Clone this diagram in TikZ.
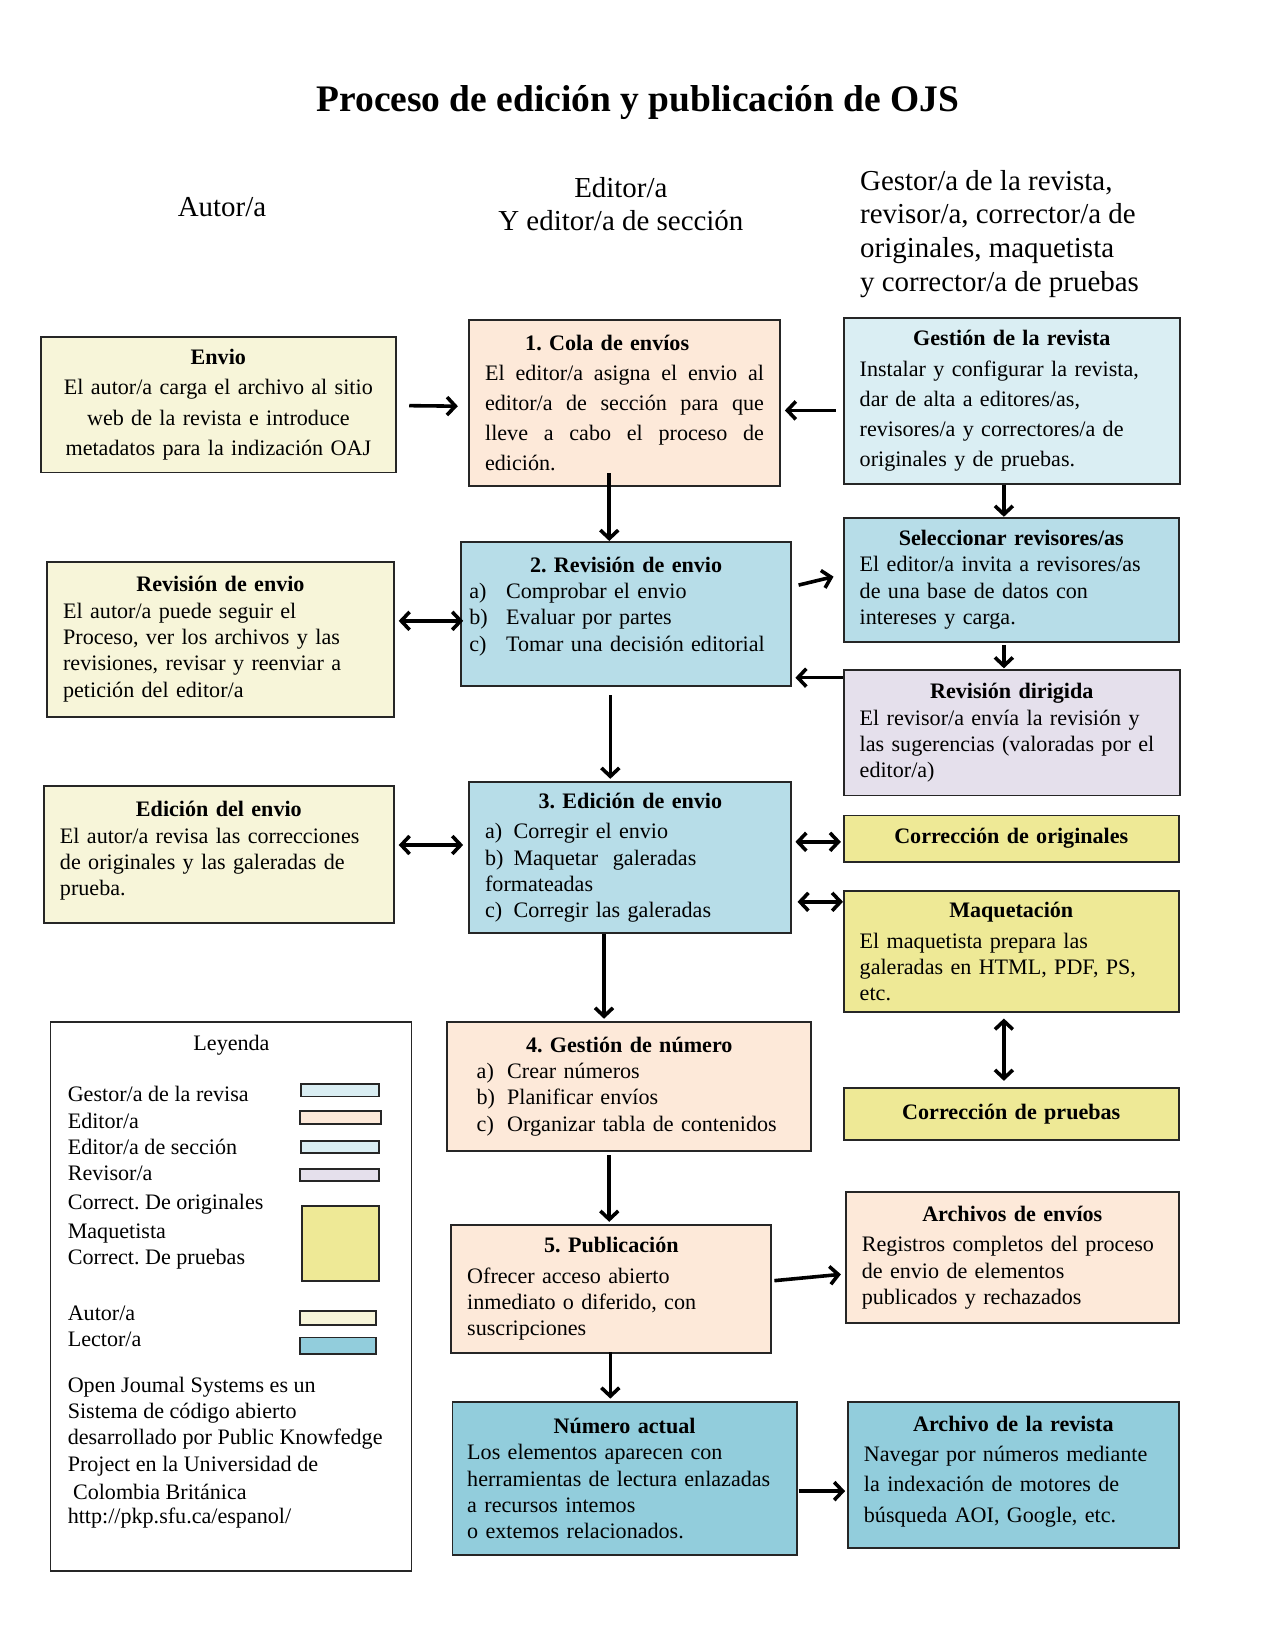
\documentclass[tikz,border=0pt]{standalone}
\usepackage{fontspec}
\setmainfont{Liberation Serif}
\usetikzlibrary{arrows.meta,calc}
\definecolor{autorc}{RGB}{247,245,217}
\definecolor{peach}{RGB}{253,233,217}
\definecolor{lblue}{RGB}{218,238,243}
\definecolor{mblue}{RGB}{183,221,232}
\definecolor{dblue}{RGB}{146,205,220}
\definecolor{lav}{RGB}{229,224,236}
\definecolor{khaki}{RGB}{238,233,150}
\newcommand\bodyf{\fontsize{10.5pt}{12.5pt}\selectfont}
\newcommand\widef{\fontsize{10.5pt}{14.35pt}\selectfont}
\newcommand\lab[2]{\makebox[#1][l]{#2}}
\newcommand\mb[1]{\mbox{#1}}
\newcommand\jl[1]{{\spaceskip=0.25em plus 2em\xspaceskip=0.25em plus 2em\makebox[\hsize][s]{#1}}}
\newcommand\dn[1]{\par\vspace{-#1}}
% name, x1, y1, x2, y2, style, padding(px), content
\newcommand\mybox[8]{%
  \pgfmathsetmacro\bxw{(#4-#2)*0.5}%
  \pgfmathsetmacro\bxh{(#5-#3)*0.5}%
  \pgfmathsetmacro\bxt{(#4-#2-2*#7)*0.5}%
  \pgfmathsetmacro\bxcx{(#2+#4)/2}%
  \pgfmathsetmacro\bxcy{(#3+#5)/2}%
  \node[box,#6,minimum width=\bxw pt,minimum height=\bxh pt,text width=\bxt pt] (#1) at (\bxcx,\bxcy) {#8};%
}
\begin{document}
\frenchspacing
\hyphenpenalty=10000
\exhyphenpenalty=10000
\begin{tikzpicture}[x=0.5pt,y=-0.5pt,
  box/.style={draw=black!85,line width=0.9pt,inner sep=0pt,font=\bodyf,align=left},
  head/.style={font=\fontsize{13.75pt}{16pt}\selectfont,inner sep=0pt},
  arr/.style={line width=1.7pt,-{Straight Barb[length=4pt,width=8.5pt]}},
  darr/.style={line width=1.7pt,{Straight Barb[length=4pt,width=8.5pt]}-{Straight Barb[length=4pt,width=8.5pt]}},
  leg/.style={font=\bodyf,anchor=west,inner sep=0pt},
  sw/.style={draw=black!85,line width=0.8pt}]
\useasboundingbox (0,0) rectangle (1212,1568);
\fill[white] (0,0) rectangle (1212,1568);

% title and headers
\node[font=\fontsize{17.8pt}{20pt}\selectfont\bfseries,inner sep=0pt] (title) at (606,97) {Proceso de edición y publicación de OJS};
\node[head] (hautor) at (211,197) {Autor/a};
\node[head,align=center] (heditor) at (590,194) {Editor/a\\Y editor/a de sección};
\node[head,align=left,anchor=west] (hgestor) at (817,222) {Gestor/a de la revista,\\revisor/a, corrector/a de\\originales, maquetista\\y corrector/a de pruebas};

% boxes
\mybox{envio}{39}{320}{376}{449}{fill=autorc,align=center,font=\widef}{15}{\textbf{Envio}\\\mb{El autor/a carga el archivo al sitio}\\\mb{web de la revista e introduce}\\\mb{metadatos para la indización OAJ}\dn{2.5pt}}

\mybox{cola}{446}{304}{741}{462}{fill=peach,font=\widef}{15}{{\centering\textbf{1. Cola de envíos}\hspace*{16.5pt}\par}%
\jl{El editor/a asigna el envio al}\\
\jl{editor/a de sección para que}\\
\jl{lleve a cabo el proceso de}\\
edición.}

\mybox{gestion}{802}{302}{1121}{460}{fill=lblue,font=\widef}{15}{{\centering\textbf{Gestión de la revista}\par}%
\mb{Instalar y configurar la revista,}\\\mb{dar de alta a editores/as,}\\\mb{revisores/a y correctores/a de}\\\mb{originales y de pruebas.}\dn{3pt}}

\mybox{revA}{45}{534}{374}{681}{fill=autorc}{15}{{\centering\textbf{Revisión de envio}\par}%
\mb{El autor/a puede seguir el}\\\mb{Proceso, ver los archivos y las}\\\mb{revisiones, revisar y reenviar a}\\\mb{petición del editor/a}}

\mybox{rev2}{438}{515}{752}{652}{fill=mblue}{8}{{\centering\textbf{2. Revisión de envio}\par}%
\lab{17.5pt}{a)}Comprobar el envio\\\lab{17.5pt}{b)}Evaluar por partes\\\lab{17.5pt}{c)}\mb{Tomar una decisión editorial}\\[-3pt]\mbox{}}

\mybox{sel}{802}{492}{1120}{610}{fill=mblue}{15}{{\centering\textbf{Seleccionar revisores/as}\par}%
\mb{El editor/a invita a revisores/as}\\\mb{de una base de datos con}\\\mb{intereses y carga.}\dn{2pt}}

\mybox{dir}{802}{637}{1121}{756}{fill=lav}{15}{{\centering\textbf{Revisión dirigida}\par}%
\mb{El revisor/a envía la revisión y}\\\mb{las sugerencias (valoradas por el}\\\mb{editor/a)}\dn{2pt}}

\mybox{edA}{42}{747}{374}{877}{fill=autorc}{15}{{\centering\textbf{Edición del envio}\par}%
\mb{El autor/a revisa las correcciones}\\\mb{de originales y las galeradas de}\\\mb{prueba.}\\[-7pt]\mbox{}}

\mybox{ed3}{446}{743}{752}{887}{fill=mblue}{15}{{\centering\textbf{3. Edición de envio}\par}\vspace{2pt}%
\lab{13.5pt}{a)}Corregir el envio\\\lab{13.5pt}{b)}Maquetar\ \ galeradas\\formateadas\\\lab{13.5pt}{c)}Corregir las galeradas\dn{3pt}}

\mybox{corig}{802}{775}{1120}{819}{fill=khaki,align=center}{15}{\textbf{Corrección de originales}\dn{2pt}}

\mybox{maq}{802}{847}{1120}{962}{fill=khaki}{15}{{\centering\textbf{Maquetación}\par}\vspace{2pt}%
\mb{El maquetista prepara las}\\\mb{galeradas en HTML, PDF, PS,}\\\mb{etc.}\dn{3pt}}

\mybox{gnum}{425}{971}{771}{1094}{fill=peach}{28}{{\centering\textbf{4. Gestión de número}\par}%
\lab{14.5pt}{a)}Crear números\\\lab{14.5pt}{b)}Planificar envíos\\\lab{14.5pt}{c)}\mb{Organizar tabla de contenidos}}

\mybox{cpru}{802}{1034}{1120}{1083}{fill=khaki,align=center}{15}{\textbf{Corrección de pruebas}}

\mybox{pub}{429}{1164}{733}{1286}{fill=peach}{15}{{\centering\textbf{5. Publicación}\par}\vspace{2pt}%
\mb{Ofrecer acceso abierto}\\\mb{inmediato o diferido, con}\\\mb{suscripciones}\dn{2pt}}

\mybox{arch}{804}{1133}{1120}{1257}{fill=peach}{15}{{\centering\textbf{Archivos de envíos}\par}\vspace{2pt}%
\mb{Registros completos del proceso}\\\mb{de envio de elementos}\\\mb{publicados y rechazados}}

\mybox{num}{430}{1332}{757}{1478}{fill=dblue}{14}{{\centering\textbf{Número actual}\par}%
\mb{Los elementos aparecen con}\\\mb{herramientas de lectura enlazadas}\\\mb{a recursos intemos}\\\mb{o extemos relacionados.}}

\mybox{arev}{806}{1332}{1120}{1471}{fill=dblue,font=\widef}{15}{{\centering\textbf{Archivo de la revista}\par}%
\mb{Navegar por números mediante}\\\mb{la indexación de motores de}\\\mb{búsqueda AOI, Google, etc.}\\[-9pt]\mbox{}}

% legend
\mybox{legend}{48}{971}{391}{1493}{}{15}{}
\node[font=\bodyf,inner sep=0pt] (leyenda) at (220,993) {Leyenda};
\node[leg] (l1) at (64,1040) {Gestor/a de la revisa};
\node[leg] (l2) at (64,1065) {Editor/a};
\node[leg] (l3) at (64,1090) {Editor/a de sección};
\node[leg] (l4) at (64,1115) {Revisor/a};
\node[leg] (l5) at (64,1144) {Correct. De originales};
\node[leg] (l6) at (64,1172) {Maquetista};
\node[leg] (l7) at (64,1197) {Correct. De pruebas};
\node[leg] (l8) at (64,1248) {Autor/a};
\node[leg] (l9) at (64,1273) {Lector/a};
\node[leg] (l10) at (64,1318) {Open Joumal Systems es un};
\node[leg] (l11) at (64,1343) {Sistema de código abierto};
\node[leg] (l12) at (64,1368) {desarrollado por Public Knowfedge};
\node[leg] (l13) at (64,1393) {Project en la Universidad de};
\node[leg] (l14) at (69,1418) {Colombia Británica};
\node[leg] (l15) at (64,1443) {http://pkp.sfu.ca/espanol/};
\draw[sw,fill=lblue] (286,1030) rectangle (360,1042);
\draw[sw,fill=peach] (285,1056) rectangle (362,1068);
\draw[sw,fill=lblue] (286,1084) rectangle (360,1096);
\draw[sw,fill=lav] (285,1111) rectangle (360,1122);
\draw[sw,fill=khaki] (287,1146) rectangle (360,1217);
\draw[sw,fill=autorc] (285,1246) rectangle (357,1259);
\draw[sw,fill=dblue] (285,1271) rectangle (357,1287);

% connectors
\draw[arr] ($(envio.east)+(12,1)$) -- ($(cola.west)+(-10,3)$);
\draw[arr] ($(gestion.west)+(-7,9)$) -- ($(cola.east)+(4,7)$);
\draw[arr] ($(cola.south)+(-14.5,-13)$) -- ($(rev2.north)+(-16,0)$);
\draw[arr] ($(gestion.south)+(-7.5,0)$) -- ($(sel.north)+(-7,0)$);
\draw[arr] ($(rev2.east)+(6,-27.5)$) -- ($(sel.west)+(-9,-3)$);
\draw[arr] ($(sel.south)+(-7,2)$) -- ($(dir.north)+(-7.5,-1)$);
\draw[arr] ($(dir.west)+(0,-52.5)$) -- ($(rev2.east)+(3,60.5)$);
\draw[darr] ($(revA.east)+(4,-17.5)$) -- ($(rev2.west)+(3,6.5)$);
\draw[arr] ($(rev2.south)+(-15,8)$) -- ($(ed3.north)+(-19,-2)$);
\draw[darr] ($(edA.east)+(4,-9)$) -- ($(ed3.west)+(-5,-12)$);
\draw[darr] ($(ed3.east)+(3,-15)$) -- ($(corig.west)+(-2,3)$);
\draw[darr] ($(ed3.east)+(5,42)$) -- ($(maq.west)+(0,-47.5)$);
\draw[arr] ($(ed3.south)+(-25,0)$) -- ($(gnum.north)+(-24,-2)$);
\draw[darr] ($(maq.south)+(-7,5)$) -- ($(cpru.north)+(-7,-6)$);
\draw[arr] ($(gnum.south)+(-19,3)$) -- ($(pub.north)+(-2,-2)$);
\draw[arr] ($(pub.east)+(2,-8)$) -- ($(arch.west)+(-4,16)$);
\draw[arr] ($(pub.south)+(-1,-2)$) -- ($(num.north)+(-13.5,-2)$);
\draw[arr] ($(num.east)+(1,12)$) -- ($(arev.west)+(-2,15.5)$);
\end{tikzpicture}
\end{document}
